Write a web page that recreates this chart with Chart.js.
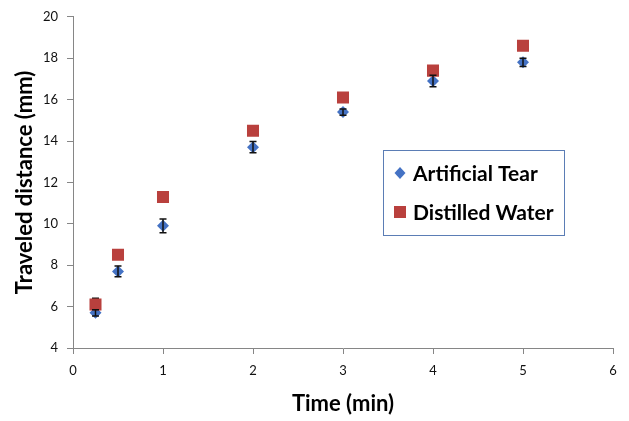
<!DOCTYPE html>
<html>
<head>
<meta charset="utf-8">
<script src="https://cdn.jsdelivr.net/npm/chart.js@4/dist/chart.umd.min.js"></script>
<style>
html,body{margin:0;padding:0;background:#fff;}
#wrap{position:relative;width:629px;height:421px;}
</style>
</head>
<body>
<div id="wrap"><canvas id="c" width="629" height="421"></canvas></div>
<script>
const times = [0.25, 0.5, 1, 2, 3, 4, 5];
const artificialTear = [5.7, 7.7, 9.9, 13.7, 15.4, 16.9, 17.8];
const artificialTearErr = [0.15, 0.26, 0.33, 0.27, 0.15, 0.28, 0.2];
const distilledWater = [6.1, 8.5, 11.3, 14.5, 16.1, 17.4, 18.6];
const distilledWaterErr = [0.3, 0.1, 0.1, 0.1, 0.15, 0.1, 0.1];
const seriesNames = ['Artificial Tear', 'Distilled Water'];
const yTicks = [4, 6, 8, 10, 12, 14, 16, 18, 20];
const xTicks = [0, 1, 2, 3, 4, 5, 6];

const FONT = 'Lato, "Open Sans", sans-serif';
const BLUE = '#4472C4';
const RED = '#B9403D';

function pts(xs, ys){ return xs.map((x,i)=>({x:x, y:ys[i]})); }

function drawErr(chart, vals, errs){
  const ctx = chart.ctx, xs = chart.scales.x, ys = chart.scales.y;
  ctx.save();
  ctx.strokeStyle = '#111';
  ctx.lineWidth = 1.5;
  vals.forEach((v,i)=>{
    const px = xs.getPixelForValue(times[i]);
    const top = ys.getPixelForValue(v + errs[i]);
    const bot = ys.getPixelForValue(v - errs[i]);
    ctx.beginPath();
    ctx.moveTo(px, top); ctx.lineTo(px, bot);
    ctx.moveTo(px-3.5, top); ctx.lineTo(px+3.5, top);
    ctx.moveTo(px-3.5, bot); ctx.lineTo(px+3.5, bot);
    ctx.stroke();
  });
  ctx.restore();
}

const errorBars = {
  id:'errorBars',
  beforeDatasetsDraw(chart){ drawErr(chart, distilledWater, distilledWaterErr); },
  afterDatasetsDraw(chart){ drawErr(chart, artificialTear, artificialTearErr); }
};

const legendBox = {
  id:'legendBox',
  afterDraw(chart){
    const ctx = chart.ctx;
    ctx.save();
    ctx.strokeStyle = '#5B7DB5';
    ctx.lineWidth = 1;
    ctx.strokeRect(383.5, 150.5, 181, 85);
    ctx.fillStyle = BLUE;
    ctx.beginPath();
    ctx.moveTo(400, 167); ctx.lineTo(405.5, 173); ctx.lineTo(400, 179); ctx.lineTo(394.5, 173);
    ctx.closePath(); ctx.fill();
    ctx.fillStyle = RED;
    ctx.fillRect(394, 206, 12, 12);
    ctx.fillStyle = '#000';
    ctx.font = 'bold 21px ' + FONT;
    ctx.textBaseline = 'middle';
    ctx.textAlign = 'left';
    ctx.fillText(seriesNames[0], 413, 174);
    ctx.fillText(seriesNames[1], 413, 213);
    ctx.restore();
  }
};

new Chart(document.getElementById('c'), {
  type:'scatter',
  data:{
    datasets:[
      {label:seriesNames[0], data:pts(times, artificialTear), pointStyle:'rectRot', pointRadius:6,
       backgroundColor:BLUE, borderColor:BLUE, borderWidth:0, order:1, pointHoverRadius:6},
      {label:seriesNames[1], data:pts(times, distilledWater), pointStyle:'rect', pointRadius:8.5,
       backgroundColor:RED, borderColor:RED, borderWidth:0, order:0, pointHoverRadius:8.5}
    ]
  },
  options:{
    responsive:false,
    animation:false,
    layout:{padding:{top:11, right:16, left:0, bottom:0}},
    plugins:{legend:{display:false}, tooltip:{enabled:false}},
    scales:{
      x:{
        type:'linear', min:0, max:6,
        afterBuildTicks(s){ s.ticks = xTicks.map(v=>({value:v})); },
        afterFit(s){ s.height = 73; },
        grid:{drawOnChartArea:false, drawTicks:true, tickLength:6, color:'#868686'},
        border:{color:'#868686', width:1},
        ticks:{color:'#111', font:{family:FONT, size:13}, padding:9},
        title:{display:true, text:'Time (min)', color:'#000', font:{family:FONT, size:22, weight:'bold'}, padding:{top:2}}
      },
      y:{
        type:'linear', min:4, max:20,
        afterBuildTicks(s){ s.ticks = yTicks.map(v=>({value:v})); },
        afterFit(s){ s.width = 73; },
        grid:{drawOnChartArea:false, drawTicks:true, tickLength:6, color:'#868686'},
        border:{color:'#868686', width:1},
        ticks:{color:'#111', font:{family:FONT, size:13}, padding:9},
        title:{display:true, text:'Traveled distance (mm)', color:'#000', font:{family:FONT, size:22, weight:'bold'}, padding:{top:12, bottom:4}}
      }
    }
  },
  plugins:[errorBars, legendBox]
});
</script>
</body>
</html>
